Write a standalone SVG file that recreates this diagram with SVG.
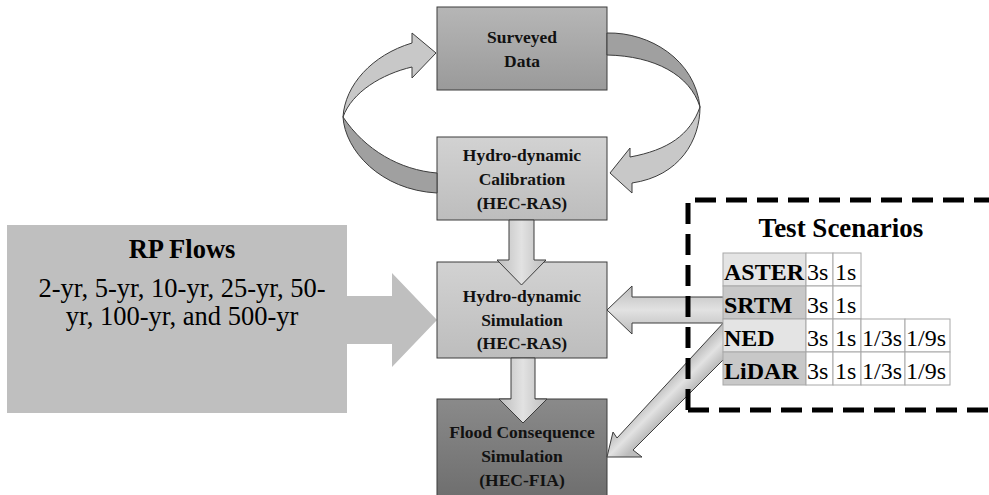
<svg xmlns="http://www.w3.org/2000/svg" width="989" height="495" viewBox="0 0 989 495">
<defs>
<linearGradient id="gSurv" x1="0" y1="0" x2="0" y2="1"><stop offset="0" stop-color="#b6b6b6"/><stop offset="1" stop-color="#9a9a9a"/></linearGradient>
<linearGradient id="gLight" x1="0" y1="0" x2="0" y2="1"><stop offset="0" stop-color="#d2d2d2"/><stop offset="1" stop-color="#bdbdbd"/></linearGradient>
<linearGradient id="gDark" x1="0" y1="0" x2="0" y2="1"><stop offset="0" stop-color="#8a8a8a"/><stop offset="1" stop-color="#6e6e6e"/></linearGradient>
<linearGradient id="gV" x1="0" y1="0" x2="1" y2="0"><stop offset="0" stop-color="#bcbcbc"/><stop offset="0.5" stop-color="#e2e2e2"/><stop offset="1" stop-color="#bcbcbc"/></linearGradient>
<linearGradient id="gH" x1="0" y1="0" x2="0" y2="1"><stop offset="0" stop-color="#bcbcbc"/><stop offset="0.5" stop-color="#e2e2e2"/><stop offset="1" stop-color="#bcbcbc"/></linearGradient>
<linearGradient id="gD" gradientUnits="userSpaceOnUse" x1="671" y1="375.5" x2="689" y2="393.5"><stop offset="0" stop-color="#bcbcbc"/><stop offset="0.5" stop-color="#e2e2e2"/><stop offset="1" stop-color="#bcbcbc"/></linearGradient>
<style>
.box{stroke:#3c3c3c;stroke-width:1}
.bt{font-family:"Liberation Serif","Times New Roman",serif;font-weight:bold;font-size:17.5px;fill:#111;text-anchor:middle}
.rp{font-family:"Liberation Serif","Times New Roman",serif;font-size:26.5px;fill:#000;text-anchor:middle}
.arr{stroke:#3c3c3c;stroke-width:1;stroke-linejoin:miter}
.cl{fill:#c8c8c8;stroke:#3c3c3c;stroke-width:1}
.cd{fill:#a0a0a0;stroke:#3c3c3c;stroke-width:1}
.cell{fill:#fff;stroke:#a8a8a8;stroke-width:1}
.nl{fill:#e4e4e4;stroke:#a8a8a8;stroke-width:1}
.nd{fill:#c8c8c8;stroke:#a8a8a8;stroke-width:1}
.tn{font-family:"Liberation Serif","Times New Roman",serif;font-weight:bold;font-size:24px;fill:#000}
.tv{font-family:"Liberation Serif","Times New Roman",serif;font-size:24px;fill:#000}
.dash{fill:none;stroke:#000;stroke-width:5;stroke-dasharray:21 10}
</style>
</defs>

<g id="rp-flows">
<path d="M7,225 H347 V296 H392 V273 L437,320 L392,367 V344 H347 V413 H7 Z" fill="#bfbfbf"/>
<text class="rp" x="182" y="258" font-weight="bold">RP Flows</text>
<text class="rp" x="182" y="297">2-yr, 5-yr, 10-yr, 25-yr, 50-</text>
<text class="rp" x="182" y="325">yr, 100-yr, and 500-yr</text>
</g>

<g id="surveyed-data">
<rect class="box" x="437" y="7" width="170" height="83" fill="url(#gSurv)"/>
<text class="bt" x="522" y="43">Surveyed</text>
<text class="bt" x="522" y="67">Data</text>
</g>

<g id="calibration">
<rect class="box" x="437" y="137" width="170" height="83" fill="url(#gLight)"/>
<text class="bt" x="522" y="161">Hydro-dynamic</text>
<text class="bt" x="522" y="185">Calibration</text>
<text class="bt" x="522" y="209">(HEC-RAS)</text>
</g>

<g id="simulation">
<rect class="box" x="437" y="262" width="170" height="96" fill="url(#gLight)"/>
<text class="bt" x="522" y="302">Hydro-dynamic</text>
<text class="bt" x="522" y="326">Simulation</text>
<text class="bt" x="522" y="349">(HEC-RAS)</text>
</g>

<g id="flood-consequence">
<rect class="box" x="437" y="399" width="170" height="100" fill="url(#gDark)"/>
<text class="bt" x="522" y="438">Flood Consequence</text>
<text class="bt" x="522" y="462">Simulation</text>
<text class="bt" x="522" y="486">(HEC-FIA)</text>
</g>

<g id="connectors">
<path class="arr" d="M509,220 H534 V260 H546 L521.5,285 L497,260 H509 Z" fill="url(#gV)"/>
<path class="arr" d="M511,358 H535 V399 H547 L523,423 L499,399 H511 Z" fill="url(#gV)"/>
<path class="arr" d="M726,297 H632 V286 L607,310 L632,334 V323 H726 Z" fill="url(#gH)"/>
<path class="arr" d="M726,320 L617,438 L613,432 L607,457 L642,457 L633,450 L726,357 Z" fill="url(#gD)"/>
<path class="cl" d="M343,117 C345,85 372,55 412,43 L412,33 L436,53 L412,78 L412,67 C382,74 352,92 343,117 Z"/>
<path class="cd" d="M343,117 C345,150 380,190 437,193 L437,173 C400,170 365,150 343,117 Z"/>
<path class="cd" d="M607,33 C650,32 695,60 700,107 C690,75 655,56 607,55 Z"/>
<path class="cl" d="M700,107 C700,140 680,176 632,183 L632,193 L610,173 L630,148 L630,157 C668,150 690,135 700,107 Z"/>
</g>

<g id="test-scenarios">
<text x="841" y="237" font-family="Liberation Serif, Times New Roman, serif" font-weight="bold" font-size="27" text-anchor="middle" fill="#000">Test Scenarios</text>
<rect class="nl" x="723" y="253" width="83" height="33"/>
<rect class="cell" x="806" y="253" width="27" height="33"/>
<rect class="cell" x="833" y="253" width="28" height="33"/>
<rect class="nd" x="723" y="286" width="83" height="33"/>
<rect class="cell" x="806" y="286" width="27" height="33"/>
<rect class="cell" x="833" y="286" width="28" height="33"/>
<rect class="nl" x="723" y="319" width="83" height="33"/>
<rect class="cell" x="806" y="319" width="27" height="33"/>
<rect class="cell" x="833" y="319" width="28" height="33"/>
<rect class="cell" x="861" y="319" width="44" height="33"/>
<rect class="cell" x="905" y="319" width="45" height="33"/>
<rect class="nd" x="723" y="352" width="83" height="33"/>
<rect class="cell" x="806" y="352" width="27" height="33"/>
<rect class="cell" x="833" y="352" width="28" height="33"/>
<rect class="cell" x="861" y="352" width="44" height="33"/>
<rect class="cell" x="905" y="352" width="45" height="33"/>
<text class="tn" x="724" y="280">ASTER</text>
<text class="tv" x="807" y="280">3s</text>
<text class="tv" x="835" y="280">1s</text>
<text class="tn" x="724" y="313">SRTM</text>
<text class="tv" x="807" y="313">3s</text>
<text class="tv" x="835" y="313">1s</text>
<text class="tn" x="724" y="346">NED</text>
<text class="tv" x="807" y="346">3s</text>
<text class="tv" x="835" y="346">1s</text>
<text class="tv" x="862" y="346">1/3s</text>
<text class="tv" x="906" y="346">1/9s</text>
<text class="tn" x="724" y="379">LiDAR</text>
<text class="tv" x="807" y="379">3s</text>
<text class="tv" x="835" y="379">1s</text>
<text class="tv" x="862" y="379">1/3s</text>
<text class="tv" x="906" y="379">1/9s</text>
<path class="dash" d="M688,410 V200 H1000"/>
<path class="dash" d="M688,410 H1000"/>
</g>
</svg>
